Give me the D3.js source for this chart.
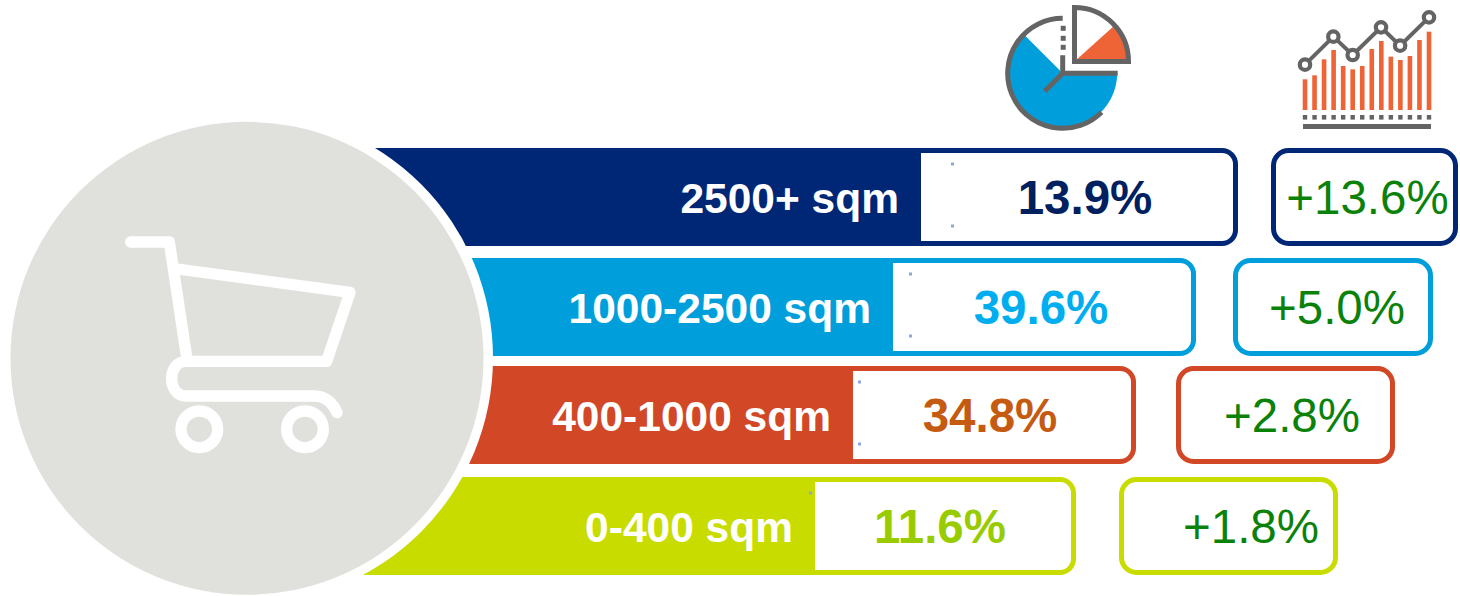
<!DOCTYPE html>
<html><head><meta charset="utf-8">
<script src="https://cdn.jsdelivr.net/npm/d3@7"></script>
<style>html,body{margin:0;padding:0;background:#fff;overflow:hidden}svg{display:block}text{font-family:"Liberation Sans",Arial,sans-serif}</style>
</head><body><div id="c"></div>
<script>
// ---- data ----
const categories = ["2500+ sqm","1000-2500 sqm","400-1000 sqm","0-400 sqm"];
const shares = [13.9,39.6,34.8,11.6];
const changes = [13.6,5.0,2.8,1.8];
const iconBars = [92,104,152,180,132,122,132,183,207,160,150,162,210,235];
const iconLine = [136,220,165,248,193,278];
const iconLineAt = [0,2.97,5,7.97,9.97,13];

// ---- layout and style (separate from the data) ----
const W=1460,H=596;
const rowTops=[148,258,366,477], rowH=98;
const labelEnd=[921,893,853,815], boxEnd=[1238,1196,1136,1076];
const deltaStart=[1271,1233,1176,1119], deltaEnd=[1458,1433,1395,1338];
const deltaText=[1367.5,1337,1292,1251], shareText=[1085,1041,990,940];
const barColors=["#002776","#009fdb","#d24726","#c8dc00"];
const shareColors=["#002060","#00aeef","#c55a11","#99cc00"];
const green="#0a820a", gray="#646464", orange="#ee6436", blue="#009fdb";
const cx=247,cy=358;

const svg=d3.select("#c").append("svg").attr("width",W).attr("height",H);
const idx=d3.range(categories.length);

const rows=svg.selectAll("g.row").data(idx).join("g").attr("class","row");
rows.append("rect").attr("x",340).attr("y",i=>rowTops[i]).attr("height",rowH)
  .attr("width",i=>boxEnd[i]-340).attr("rx",16).attr("fill",i=>barColors[i]);
rows.append("rect").attr("x",i=>labelEnd[i]).attr("y",i=>rowTops[i]+5).attr("height",rowH-10)
  .attr("width",i=>boxEnd[i]-labelEnd[i]-5).attr("rx",11).attr("fill","#fff");
rows.append("rect").attr("x",i=>labelEnd[i]).attr("y",i=>rowTops[i]+5).attr("height",rowH-10)
  .attr("width",20).attr("fill","#fff");
rows.append("rect").attr("x",i=>deltaStart[i]+2.5).attr("y",i=>rowTops[i]+2.5).attr("height",rowH-5)
  .attr("width",i=>deltaEnd[i]-deltaStart[i]-5).attr("rx",15).attr("fill","#fff")
  .attr("stroke",i=>barColors[i]).attr("stroke-width",5);
[16,78].forEach(o=>{
  rows.append("rect").attr("x",i=>labelEnd[i]+(i===0?30:i===1?16:i===2?5:-6)).attr("y",i=>rowTops[i]+o-1.5)
    .attr("width",3).attr("height",3).attr("fill",i=>i===3&&o===78?"none":"#8fa6dc");
});
rows.append("text").attr("x",i=>labelEnd[i]-22).attr("y",i=>rowTops[i]+65).attr("text-anchor","end")
  .attr("font-size",42.5).attr("font-weight",700).attr("fill","#fff").text(i=>categories[i]);
rows.append("text").attr("x",i=>shareText[i]).attr("y",i=>rowTops[i]+66).attr("text-anchor","middle")
  .attr("font-size",47.5).attr("font-weight",700).attr("fill",i=>shareColors[i]).text(i=>shares[i].toFixed(1)+"%");
rows.append("text").attr("x",i=>deltaText[i]).attr("y",i=>rowTops[i]+66).attr("text-anchor","middle")
  .attr("font-size",47.5).attr("fill",green).text(i=>"+"+changes[i].toFixed(1)+"%");

svg.append("circle").attr("cx",cx).attr("cy",cy).attr("r",246).attr("fill","#fff");
svg.append("circle").attr("cx",cx).attr("cy",cy+0.3).attr("r",236.5).attr("fill","#e0e1dc");
const cart=svg.append("g").attr("transform","translate(100,220) scale(0.3333)")
  .attr("fill","none").attr("stroke","#fff").attr("stroke-width",34).attr("stroke-linecap","round").attr("stroke-linejoin","round");
cart.append("path").attr("d","M92,66 L208,66 L262,425");
cart.append("path").attr("d","M232,147 L750,217 L680,424 L258,424 C230,424 215,450 215,476 C215,505 232,528 258,528 L645,528 C675,528 700,550 711,578");
[298,615].forEach(x=>cart.append("circle").attr("cx",x).attr("cy",628).attr("r",55));

// pie icon
const pie=svg.append("g").attr("transform","translate(1062.7,73.3)");
const a=d3.arc(), deg=Math.PI/180;
pie.append("path").attr("fill",blue).attr("d",a({innerRadius:0,outerRadius:54.5,startAngle:-270*deg,endAngle:-45*deg}));
pie.append("path").attr("fill","none").attr("stroke",gray).attr("stroke-width",5)
  .attr("d",a({innerRadius:55,outerRadius:55,startAngle:0,endAngle:-225*deg}));
pie.append("path").attr("stroke",gray).attr("stroke-width",5).attr("fill","none").attr("d","M-18,18 L0,0 L55,0 M0,0 L0,-18");
[-26,-35,-45].forEach(y=>pie.append("rect").attr("x",-2).attr("y",y-2.5).attr("width",5).attr("height",5).attr("fill",gray));
const sl=svg.append("g").attr("transform","translate(1074.5,61.5)");
sl.append("path").attr("fill",orange).attr("d",a({innerRadius:0,outerRadius:53,startAngle:48*deg,endAngle:90*deg}));
sl.append("path").attr("fill","none").attr("stroke",gray).attr("stroke-width",5).attr("stroke-linejoin","miter")
  .attr("d",a({innerRadius:0,outerRadius:54,startAngle:0,endAngle:90*deg}));

// bar + line icon
const ic=svg.append("g");
const bx=d3.scaleLinear().domain([0,iconBars.length-1]).range([1305,1429]);
const by=d3.scaleLinear().domain([0,240]).range([110,30]);
ic.selectAll("rect.b").data(iconBars).join("rect").attr("class","b")
  .attr("x",(d,i)=>bx(i)-2.3).attr("width",4.6).attr("y",d=>by(d)).attr("height",d=>110-by(d)).attr("fill",orange);
ic.selectAll("rect.s").data(iconBars).join("rect").attr("class","s")
  .attr("x",(d,i)=>bx(i)-2.2).attr("width",4.4).attr("y",115).attr("height",4.6).attr("fill",gray);
ic.append("rect").attr("x",1303).attr("y",124).attr("width",128).attr("height",5).attr("fill",gray);
const lp=iconLine.map((d,i)=>[bx(iconLineAt[i]),by(d)]);
ic.append("path").attr("fill","none").attr("stroke",gray).attr("stroke-width",4).attr("d",d3.line()(lp));
ic.selectAll("circle").data(lp).join("circle").attr("cx",d=>d[0]).attr("cy",d=>d[1]).attr("r",5.2)
  .attr("fill","#fff").attr("stroke",gray).attr("stroke-width",4.2);
</script></body></html>
